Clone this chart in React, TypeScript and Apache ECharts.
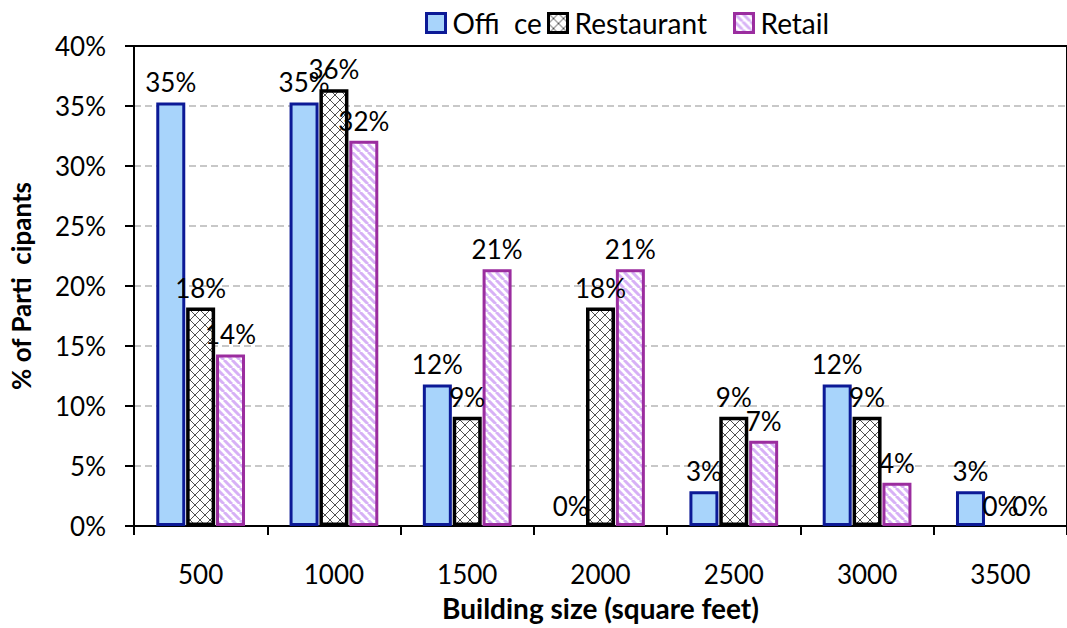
import React, { useEffect, useRef } from "react";
import * as echarts from "echarts";

const categories = ["500", "1000", "1500", "2000", "2500", "3000", "3500"];
const officeValues = [35.3, 35.3, 11.8, 0, 2.9, 11.8, 2.9];
const restaurantValues = [18.2, 36.4, 9.1, 18.2, 9.1, 9.1, 0];
const retailValues = [14.3, 32.1, 21.4, 21.4, 7.1, 3.6, 0];
const seriesNames = ["Offi  ce", "Restaurant", "Retail"];

const FONT = "Lato";

function makeCross() {
  const c = document.createElement("canvas");
  c.width = 10;
  c.height = 10;
  const g = c.getContext("2d")!;
  g.fillStyle = "#ffffff";
  g.fillRect(0, 0, 10, 10);
  g.strokeStyle = "#505050";
  g.lineWidth = 1;
  g.beginPath();
  for (const k of [-10, 0, 10]) {
    g.moveTo(k, 0);
    g.lineTo(k + 10, 10);
    g.moveTo(k + 10, 0);
    g.lineTo(k, 10);
  }
  g.stroke();
  return c;
}

function makeStripe() {
  const c = document.createElement("canvas");
  c.width = 8;
  c.height = 8;
  const g = c.getContext("2d")!;
  g.fillStyle = "#ffffff";
  g.fillRect(0, 0, 8, 8);
  g.strokeStyle = "#d7b1f6";
  g.lineWidth = 3;
  g.beginPath();
  for (const k of [-8, 0, 8]) {
    g.moveTo(k, 0);
    g.lineTo(k + 8, 8);
  }
  g.stroke();
  return c;
}

const zeroless = (arr: number[]) =>
  arr.map((v) => (v === 0 ? { value: v, itemStyle: { borderWidth: 0, opacity: 0 } } : v));

export default function App() {
  const ref = useRef<HTMLDivElement>(null);
  useEffect(() => {
    if (!ref.current) return;
    const chart = echarts.init(ref.current, null, { renderer: "svg" });
    const cross = makeCross();
    const stripe = makeStripe();
    const label = {
      show: true,
      position: "top" as const,
      distance: 7,
      fontFamily: FONT,
      fontSize: 26,
      color: "#000",
      opacity: 1,
      formatter: (p: any) => Math.round(p.value) + "%",
    };
    const legendCommon = {
      top: 4,
      icon: "rect",
      itemWidth: 19,
      itemHeight: 19,
      itemGap: 8,
      itemStyle: { borderWidth: 3 },
      textStyle: { fontFamily: FONT, fontSize: 28, color: "#000", padding: [0, 0, 0, 2] },
    };
    chart.setOption({
      animation: false,
      backgroundColor: "#fff",
      legend: [
        { ...legendCommon, left: 420, data: [seriesNames[0]] },
        { ...legendCommon, left: 542, data: [seriesNames[1]] },
        { ...legendCommon, left: 728, data: [seriesNames[2]] },
      ],
      grid: {
        left: 133,
        right: -10,
        top: 46,
        bottom: 102,
        show: true,
        borderColor: "#000",
        borderWidth: 2,
      },
      xAxis: {
        type: "category",
        data: categories,
        name: "Building size (square feet)",
        nameLocation: "middle",
        nameGap: 68,
        nameTextStyle: { fontFamily: FONT, fontSize: 28, fontWeight: "bold", color: "#000" },
        axisLine: { lineStyle: { color: "#000", width: 2 } },
        axisTick: { show: true, length: 9, lineStyle: { color: "#000", width: 2 } },
        axisLabel: { fontFamily: FONT, fontSize: 26, color: "#000", margin: 35 },
      },
      yAxis: {
        type: "value",
        min: 0,
        max: 40,
        interval: 5,
        name: "% of Parti  cipants",
        nameLocation: "middle",
        nameGap: 100,
        nameTextStyle: { fontFamily: FONT, fontSize: 26, fontWeight: "bold", color: "#000" },
        axisLine: { show: true, lineStyle: { color: "#000", width: 2 } },
        axisTick: { show: true, length: 9, lineStyle: { color: "#000", width: 2 } },
        axisLabel: {
          fontFamily: FONT,
          fontSize: 26,
          color: "#000",
          margin: 28,
          formatter: (v: number) => v + "%",
        },
        splitLine: {
          show: true,
          showMinLine: false,
          showMaxLine: false,
          lineStyle: { color: "#c8c8c8", width: 2, type: [7, 4] },
        },
      },
      series: [
        {
          name: seriesNames[0],
          type: "bar",
          data: zeroless(officeValues),
          barWidth: 29,
          barGap: "3%",
          itemStyle: { color: "#a8d4fb", borderColor: "#0c1a96", borderWidth: 3 },
          label,
        },
        {
          name: seriesNames[1],
          type: "bar",
          data: zeroless(restaurantValues),
          barWidth: 29,
          barGap: "3%",
          itemStyle: {
            color: { image: cross, imageWidth: 10, imageHeight: 10, repeat: "repeat" },
            borderColor: "#000",
            borderWidth: 3.5,
          },
          label,
        },
        {
          name: seriesNames[2],
          type: "bar",
          data: zeroless(retailValues),
          barWidth: 29,
          barGap: "3%",
          itemStyle: {
            color: { image: stripe, imageWidth: 8, imageHeight: 8, repeat: "repeat" },
            borderColor: "#9b2d9f",
            borderWidth: 3,
          },
          label,
        },
      ],
    });
    return () => chart.dispose();
  }, []);
  return <div ref={ref} style={{ width: 1067, height: 628, position: "absolute", left: 0, top: 0 }} />;
}
